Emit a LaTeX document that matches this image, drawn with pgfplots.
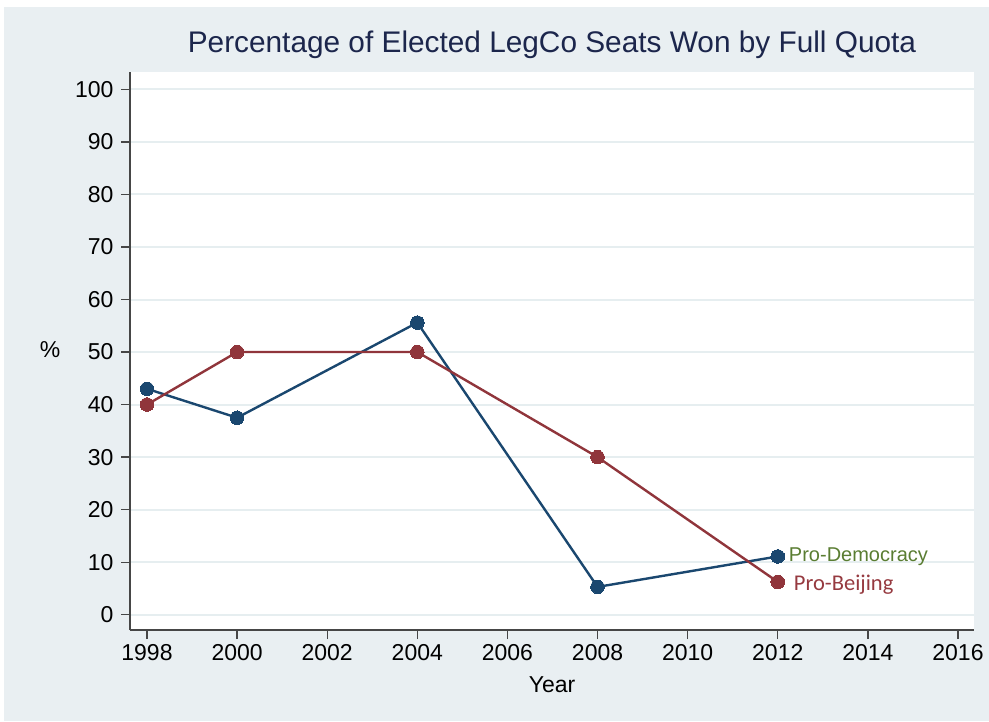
\documentclass[border=0pt]{standalone}
\usepackage{fontspec}
\setmainfont{Liberation Sans}
\newfontfamily\carlito{Carlito}
\usepackage{pgfplots}
\pgfplotsset{compat=1.18}
\definecolor{bgc}{RGB}{233,239,242}
\definecolor{gridc}{RGB}{230,238,240}
\definecolor{demc}{RGB}{26,71,111}
\definecolor{bjc}{RGB}{144,53,59}
\definecolor{titlec}{RGB}{28,38,76}
\definecolor{demtxt}{RGB}{90,125,50}
\definecolor{bjtxt}{RGB}{150,58,64}
\definecolor{axc}{RGB}{70,70,70}

\begin{document}
\begin{tikzpicture}
% page background
\fill[white] (0pt,0pt) rectangle (989pt,721pt);
\fill[bgc] (4pt,0pt) rectangle (989pt,714pt);
\begin{axis}[
    at={(130pt,91pt)}, anchor=south west,
    scale only axis, width=844pt, height=558pt,
    xmin=1997.623, xmax=2016.355,
    ymin=-2.9, ymax=103.3,
    axis x line*=bottom, % only bottom and left lines
    axis y line*=left,
    axis background/.style={fill=white},
    axis line style={axc, line width=1.3pt},
    xtick={1998,2000,...,2016},
    ytick={0,10,...,100},
    tick align=outside,
    major tick length=9pt,
    tick style={axc, line width=1.3pt},
    /pgf/number format/assume math mode=true,
    x tick label style={/pgf/number format/1000 sep={}, yshift=-2pt},
    y tick label style={xshift=-4pt},
    ticklabel style={font=\fontsize{23}{26}\selectfont, text=black},
    ymajorgrids,
    major grid style={gridc, line width=2pt},
    title={Percentage of Elected LegCo Seats Won by Full Quota},
    title style={at={(0.5,1)}, anchor=center, yshift=21pt,
        font=\fontsize{29.8}{32}\selectfont, text=titlec},
    xlabel={Year},
    xlabel style={at={(axis description cs:0.5,0)}, anchor=center, yshift=-55pt,
        font=\fontsize{23}{26}\selectfont},
    ylabel={\%},
    ylabel style={rotate=-90, at={(axis description cs:0,0.502)}, anchor=center, xshift=-80pt,
        font=\fontsize{23}{26}\selectfont},
    clip=false]
    % Pro-Democracy
    \addplot[demc, line width=2.4pt, mark=*, mark size=6.8pt,
        mark options={fill=demc, draw=demc, line width=0pt}] coordinates {
        (1998,43.0) (2000,37.5) (2004,55.6) (2008,5.3) (2012,11.1)
    };
    % Pro-Beijing
    \addplot[bjc, line width=2.4pt, mark=*, mark size=6.8pt,
        mark options={fill=bjc, draw=bjc, line width=0pt}] coordinates {
        (1998,40.0) (2000,50.0) (2004,50.0) (2008,30.0) (2012,6.25)
    };
    \node[anchor=west, text=demtxt, font=\fontsize{20}{22}\selectfont, inner sep=0pt]
        at (axis cs:2012,11.1) [xshift=11pt] {Pro-Democracy};
    \node[anchor=west, text=bjtxt, font=\carlito\fontsize{22.5}{24}\selectfont, inner sep=0pt]
        at (axis cs:2012,6.25) [xshift=16pt, yshift=-3pt] {Pro-Beijing};
\end{axis}
\end{tikzpicture}
\end{document}
